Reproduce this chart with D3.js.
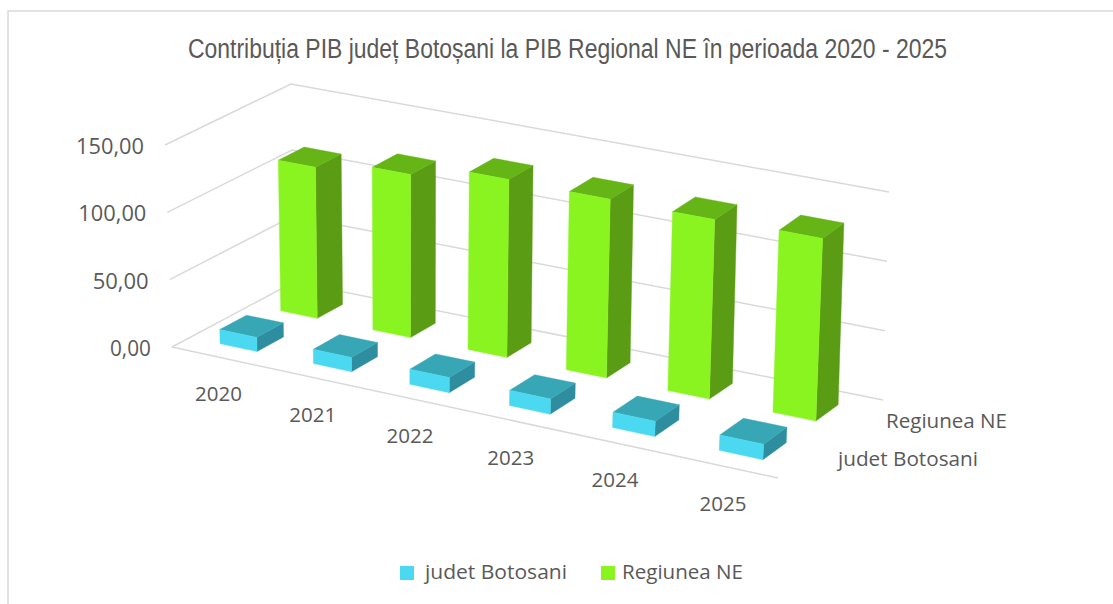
<!DOCTYPE html>
<html><head><meta charset="utf-8">
<script src="https://cdn.jsdelivr.net/npm/d3@7/dist/d3.min.js"></script>
<style>html,body{margin:0;padding:0;background:#fff}svg{display:block}</style>
</head><body><div id="chart"></div>
<script>
const years = ["2020","2021","2022","2023","2024","2025"];
const seriesNames = ["judet Botosani","Regiunea NE"];
const judetValues = [10.5,10.5,11,11,11,11];
const regiuneValues = [113,121,131,130.5,130,131];
const yTicks = [0,50,100,150];
const yTickLabels = ["0,00","50,00","100,00","150,00"];
const titleText = "Contribuția PIB județ Botoșani la PIB Regional NE în perioada 2020 - 2025";

const W=1113,H=604;
const svg=d3.select("#chart").append("svg").attr("width",W).attr("height",H);

function homography(p00,p10,p11,p01){
  const [x0,y0]=p00,[x1,y1]=p10,[x2,y2]=p11,[x3,y3]=p01;
  const dx1=x1-x2,dx2=x3-x2,sx=x0-x1+x2-x3,dy1=y1-y2,dy2=y3-y2,sy=y0-y1+y2-y3;
  const den=dx1*dy2-dx2*dy1;
  const g=(sx*dy2-dx2*sy)/den,h=(dx1*sy-sx*dy1)/den;
  const a=x1-x0+g*x1,b=x3-x0+h*x3,d=y1-y0+g*y1,e=y3-y0+h*y3;
  return (u,v)=>{const w=g*u+h*v+1;return [(a*u+b*v+x0)/w,(d*u+e*v+y0)/w];};
}
const floorH=homography([172,347],[778,478],[883,400],[294,282]);
const topH=homography([165,145],[789,266],[889,192],[291,84]);
const project=(u,v,t)=>{const a=floorH(u,v),b=topH(u,v);return [a[0]+(b[0]-a[0])*t,a[1]+(b[1]-a[1])*t];};

const xBand=d3.scaleBand().domain(years).range([0.012,0.996]).paddingInner(0.60).paddingOuter(0.255);
const zBand=d3.scaleBand().domain(seriesNames).range([-0.03,0.97]).paddingInner(0.566).paddingOuter(0.293).align(0.6);
const yScale=d3.scaleLinear().domain([0,150]).range([0,1]);

const line=d3.line();
svg.append("path").attr("d",line([[8,H],[8,11],[W,11]])).attr("fill","none").attr("stroke","#d9d9d9").attr("stroke-width",1.5);

svg.append("text").attr("x",567.5).attr("y",58).attr("text-anchor","middle")
  .attr("font-family","Liberation Sans").attr("font-size",27).attr("fill","#595959")
  .attr("textLength",759).attr("lengthAdjust","spacingAndGlyphs").text(titleText);

const grid=svg.append("g").attr("fill","none").attr("stroke","#d9d9d9").attr("stroke-width",1.5);
yTicks.forEach(t=>{const h=yScale(t);
  grid.append("path").attr("d",line([project(0,0,h),project(0,1,h),project(1,1,h)]));
});
grid.append("path").attr("d",line([project(0,0,0),project(1,0,0)]));

const colors={
 "judet Botosani":{front:"#4ad9f0",top:"#37a7b5",side:"#2e8d9f"},
 "Regiunea NE":{front:"#8af421",top:"#64b515",side:"#5a9c14"}
};
function drawBars(name,values){
  const g=svg.append("g").attr("class","series");
  const c=colors[name];
  const z0=zBand(name),z1=z0+zBand.bandwidth();
  years.forEach((yr,i)=>{
    const u0=xBand(yr),u1=u0+xBand.bandwidth(),h=yScale(values[i]);
    const P=(u,v,t)=>project(u,v,t);
    const faces=[
      [c.side,[P(u1,z0,0),P(u1,z1,0),P(u1,z1,h),P(u1,z0,h)]],
      [c.top,[P(u0,z0,h),P(u1,z0,h),P(u1,z1,h),P(u0,z1,h)]],
      [c.front,[P(u0,z0,0),P(u1,z0,0),P(u1,z0,h),P(u0,z0,h)]]
    ];
    faces.forEach(([col,pts])=>g.append("path").attr("d",line(pts)+"Z").attr("fill",col).attr("stroke",col).attr("stroke-width",0.4));
  });
}
drawBars("Regiunea NE",regiuneValues);
drawBars("judet Botosani",judetValues);

const font="Open Sans";
const textCol="#595959";
yTicks.forEach((t,i)=>{const p=project(0,0,yScale(t));
  svg.append("text").attr("x",p[0]-21).attr("y",p[1]+9).attr("text-anchor","end")
   .attr("font-family",font).attr("font-size",21).attr("fill",textCol)
   .attr("textLength",i==0?41:(i==1?56:68)).attr("lengthAdjust","spacingAndGlyphs").text(yTickLabels[i]);
});
years.forEach(yr=>{const u=xBand(yr)+xBand.bandwidth()/2,p=project(u,0,0);
  svg.append("text").attr("x",p[0]-2).attr("y",p[1]+44).attr("text-anchor","middle")
   .attr("font-family",font).attr("font-size",20.5).attr("fill",textCol).text(yr);
});
const labelAttrs=(s,x,y,tl)=>s.attr("x",x).attr("y",y).attr("font-family",font).attr("font-size",20).attr("fill",textCol).attr("textLength",tl).attr("lengthAdjust","spacingAndGlyphs");
labelAttrs(svg.append("text"),886,428,121).text(seriesNames[1]);
labelAttrs(svg.append("text"),838,466,140).text(seriesNames[0]);

const leg=[[400,425,142,seriesNames[0],"#4ad9f0"],[601,622,121,seriesNames[1],"#8af421"]];
leg.forEach(([sx,tx,tl,name,col])=>{
  svg.append("rect").attr("x",sx).attr("y",566).attr("width",14).attr("height",14).attr("fill",col);
  labelAttrs(svg.append("text"),tx,579,tl).text(name);
});
</script></body></html>
